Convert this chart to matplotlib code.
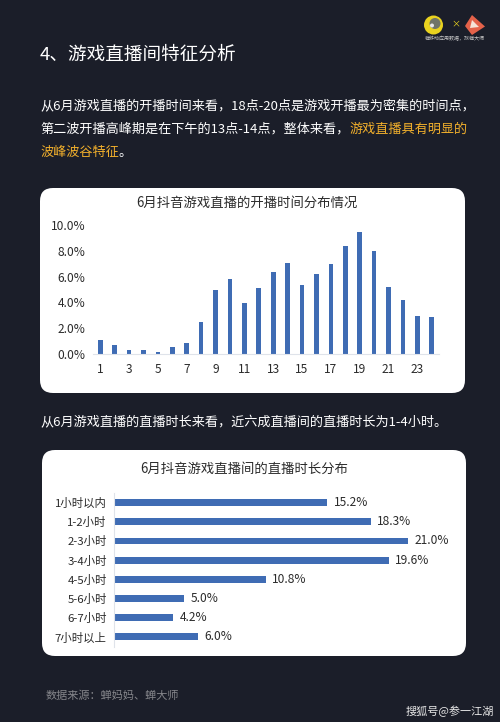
import matplotlib
matplotlib.use("Agg")
import matplotlib.pyplot as plt
from matplotlib.patches import FancyBboxPatch, Circle, Polygon

plt.rcParams['font.family'] = ['Noto Sans CJK SC', 'DejaVu Sans']

W, H = 500, 722
BG = '#1b1e29'
BLUE = '#3f6cb4'
DARK = '#2b2b2b'
ORANGE = '#f2b02c'

hours = list(range(1, 25))
start_share = [1.06, 0.70, 0.30, 0.28, 0.13, 0.57, 0.85, 2.50, 5.00, 5.84, 3.95, 5.14,
               6.38, 7.03, 5.37, 6.20, 6.98, 8.35, 9.48, 8.00, 5.20, 4.20, 2.95, 2.87]
hour_ticks = list(range(1, 24, 2))
share_ticks = [0, 2, 4, 6, 8, 10]

durations = ['1小时以内', '1-2小时', '2-3小时', '3-4小时', '4-5小时', '5-6小时', '6-7小时', '7小时以上']
duration_share = [15.2, 18.3, 21.0, 19.6, 10.8, 5.0, 4.2, 6.0]

heading = '4、游戏直播间特征分析'
para_1 = '从6月游戏直播的开播时间来看，18点-20点是游戏开播最为密集的时间点，'
para_2a = '第二波开播高峰期是在下午的13点-14点，整体来看，'
para_2b = '游戏直播具有明显的'
para_3 = '波峰波谷特征'
para_3b = '。'
para_4 = '从6月游戏直播的直播时长来看，近六成直播间的直播时长为1-4小时。'
title_1 = '6月抖音游戏直播的开播时间分布情况'
title_2 = '6月抖音游戏直播间的直播时长分布'
source = '数据来源：蝉妈妈、蝉大师'
watermark = '搜狐号@参一江湖'
logo_text = '蝉移动应用数据，找蝉大师'

fig = plt.figure(figsize=(W / 100, H / 100), dpi=100, facecolor=BG)

bg = fig.add_axes([0, 0, 1, 1], zorder=0)
bg.set_xlim(0, W)
bg.set_ylim(H, 0)
bg.axis('off')


def card(x0, y0, x1, y1, r=13):
    bg.add_patch(FancyBboxPatch((x0 + r, y0 + r), x1 - x0 - 2 * r, y1 - y0 - 2 * r,
                                boxstyle=f'round,pad={r},rounding_size={r}',
                                fc='white', ec='none'))


card(40, 188, 465, 393)
card(42, 450, 466, 656)


def px_axes(x0, y0, x1, y1):
    return fig.add_axes([x0 / W, 1 - y1 / H, (x1 - x0) / W, (y1 - y0) / H],
                        zorder=2, facecolor='none')


def put(x, y, s, size, color, **kw):
    return bg.text(x, y, s, fontsize=size, color=color, va='center', ha=kw.pop('ha', 'left'), **kw)


def run(x, y, parts, size):
    r = fig.canvas.get_renderer()
    for s, c in parts:
        t = put(x, y, s, size, c)
        x = t.get_window_extent(r).x1


put(40, 55, heading, 13.4, 'white', weight='medium')
put(40, 105.5, para_1, 9.45, 'white')
run(40, 129, [(para_2a, 'white'), (para_2b, ORANGE)], 9.45)
run(40, 152.5, [(para_3, ORANGE), (para_3b, 'white')], 9.45)
put(40, 422.5, para_4, 9.45, 'white')
put(247, 202.5, title_1, 9.6, DARK, ha='center', weight='medium')
put(244.5, 468.5, title_2, 9.6, DARK, ha='center', weight='medium')
put(46, 696, source, 8.0, '#85868b')
put(406, 711, watermark, 8.0, '#e8e8e8')

# logos
bg.add_patch(Circle((433.5, 25), 9.5, fc='#e9d21f', ec='none'))
bg.add_patch(Circle((435, 23.5), 5.5, fc='#6f7468', ec='none'))
bg.add_patch(Circle((432, 25.5), 2, fc='#e8e8e8', ec='none'))
put(455.5, 23.5, '×', 6.5, '#e9d21f', ha='center')
bg.add_patch(Polygon([[472, 15], [485, 26.5], [472, 35], [465, 26]],
                     closed=True, fc='#e4624a', ec='none'))
bg.add_patch(Polygon([[472, 20], [479, 27], [470, 28]], closed=True, fc='#f6e3d8', ec='none'))
put(455, 39, logo_text, 3.6, '#c8c8c8', ha='center')

# chart 1
ax1 = px_axes(93, 225, 439, 354)
ax1.bar(hours, start_share, width=0.32, color=BLUE)
ax1.set_xlim(0.5, 24.5)
ax1.set_ylim(0, 10)
ax1.set_xticks(hour_ticks)
ax1.set_xticklabels([str(h) for h in hour_ticks])
ax1.set_yticks(share_ticks)
ax1.set_yticklabels([f'{v:.1f}%' for v in share_ticks])
ax1.tick_params(length=0, labelsize=8.6, labelcolor=DARK)
ax1.tick_params(axis='x', pad=6.5)
ax1.tick_params(axis='y', pad=5.5)
for s in ['top', 'right', 'left']:
    ax1.spines[s].set_visible(False)
ax1.spines['bottom'].set_color('#dfe3ea')
ax1.spines['bottom'].set_linewidth(0.8)

# chart 2
ax2 = px_axes(114.3, 493, 422.3, 646.5)
bars = ax2.barh(range(len(durations)), duration_share, height=0.36, color=BLUE)
ax2.set_ylim(len(durations) - 0.5, -0.5)
ax2.set_xlim(0, 22)
ax2.set_yticks(range(len(durations)))
ax2.set_yticklabels(durations)
ax2.set_xticks([])
ax2.tick_params(length=0, labelsize=8.2, labelcolor=DARK, pad=5.5)
ax2.bar_label(bars, labels=[f'{v:.1f}%' for v in duration_share], padding=4.7,
              fontsize=8.6, color=DARK)
for s in ['top', 'right', 'bottom']:
    ax2.spines[s].set_visible(False)
ax2.spines['left'].set_color('#dfe3ea')
ax2.spines['left'].set_linewidth(0.8)

fig.savefig('out.png', dpi=100, facecolor=BG)
